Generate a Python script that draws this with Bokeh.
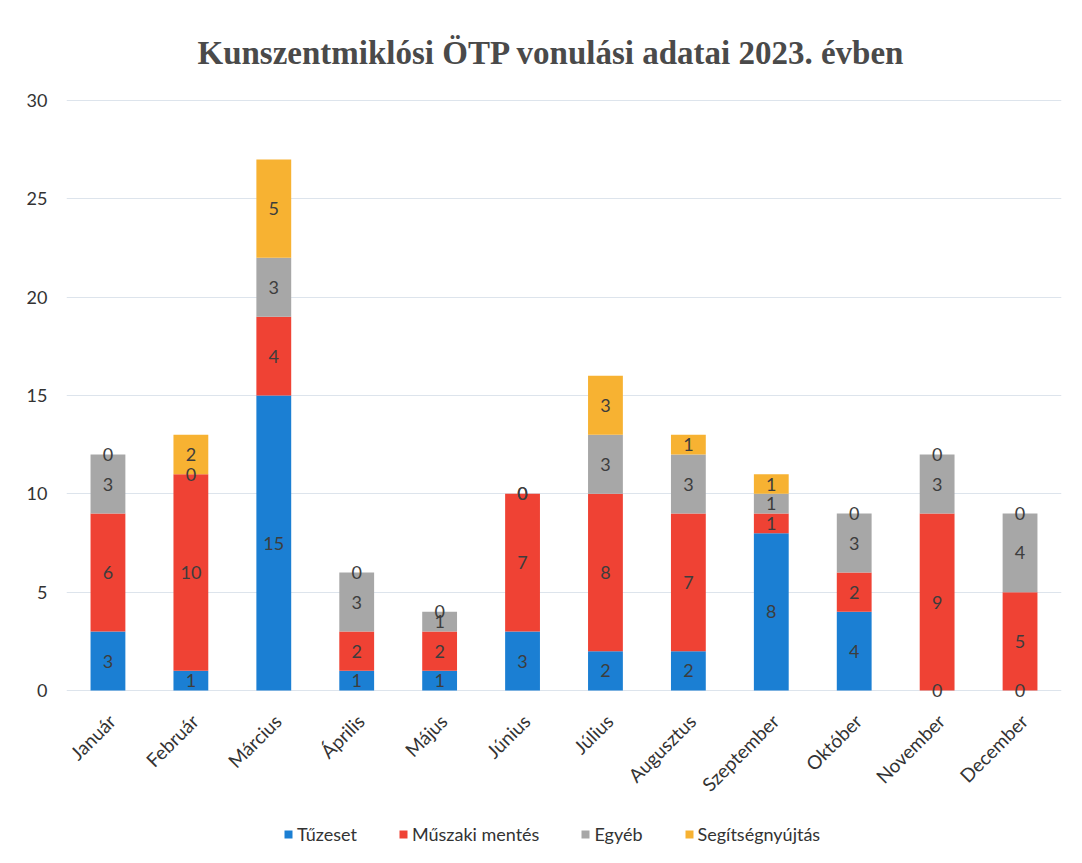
import math
from bokeh.plotting import figure
from bokeh.models import ColumnDataSource, Legend, LegendItem, FactorRange, Range1d
from bokeh.core.properties import value
from bokeh.embed import file_html
from bokeh.resources import INLINE

months = ["Január", "Február", "Március", "Április", "Május", "Június",
          "Július", "Augusztus", "Szeptember", "Október", "November", "December"]
tuzeset = [3, 1, 15, 1, 1, 3, 2, 2, 8, 4, 0, 0]
muszaki = [6, 10, 4, 2, 2, 7, 8, 7, 1, 2, 9, 5]
egyeb = [3, 0, 3, 3, 1, 0, 3, 3, 1, 3, 3, 4]
segitseg = [0, 2, 5, 0, 0, 0, 3, 1, 1, 0, 0, 0]
series_names = ["Tűzeset", "Műszaki mentés", "Egyéb", "Segítségnyújtás"]
series_keys = ["tuzeset", "muszaki", "egyeb", "segitseg"]
colors = ["#1b7fd3", "#ef4234", "#a7a7a7", "#f7b232"]
y_ticks = [0, 5, 10, 15, 20, 25, 30]

data = dict(month=months, tuzeset=tuzeset, muszaki=muszaki, egyeb=egyeb, segitseg=segitseg)
source = ColumnDataSource(data)

# frame spans from the 30 line down to the bottom of the page so that the
# rotated month names and the legend sit inside it
p = figure(x_range=FactorRange(*months), y_range=Range1d(-7.88, 30.05),
           width=1066, height=847, output_backend="svg", toolbar_location=None,
           title="Kunszentmiklósi ÖTP vonulási adatai 2023. évben",
           min_border_left=66, min_border_right=5, min_border_top=99, min_border_bottom=2)
p.outline_line_color = None
p.background_fill_color = "white"

p.title.align = "left"
p.title.offset = 131
p.title.text_font = "Liberation Serif"
p.title.text_font_style = "bold"
p.title.text_font_size = "33px"
p.title.text_color = "#4a4a4a"
p.title.standoff = 57

renderers = p.vbar_stack(series_keys, x="month", width=0.42, color=colors, source=source,
                         line_color=None)

# data labels
series_vals = [tuzeset, muszaki, egyeb, segitseg]
lx, ly, lt = [], [], []
for i, m in enumerate(months):
    base = 0
    for vals in series_vals:
        v = vals[i]
        lx.append(m)
        ly.append(base + v / 2)
        lt.append(str(v))
        base += v
lsrc = ColumnDataSource(dict(x=lx, y=ly, t=lt))
p.text(x="x", y="y", text="t", source=lsrc, text_align="center", text_baseline="middle",
       text_font=value("Lato"), text_font_size="18px", text_color="#3d3d3d")

# month names (rotated category labels)
msrc = ColumnDataSource(dict(x=months, y=[0] * len(months), t=months))
p.text(x="x", y="y", text="t", source=msrc, angle=math.pi / 4, text_align="right",
       text_baseline="middle", x_offset=4, y_offset=27,
       text_font=value("Lato"), text_font_size="19px", text_color="#333333")

# axes
p.xaxis.visible = False
p.yaxis.ticker = y_ticks
p.yaxis.axis_line_color = None
p.yaxis.major_tick_line_color = None
p.yaxis.minor_tick_line_color = None
p.yaxis.major_label_text_font = "Lato"
p.yaxis.major_label_text_font_size = "18px"
p.yaxis.major_label_text_color = "#333333"
p.yaxis.major_label_standoff = 13

p.xgrid.grid_line_color = None
p.ygrid.ticker = y_ticks
p.ygrid.grid_line_color = "#dde4ec"
p.ygrid.grid_line_width = 1

legend = Legend(items=[LegendItem(label=n, renderers=[r]) for n, r in zip(series_names, renderers)],
                orientation="horizontal", location=(217, 0),
                label_text_font="Lato", label_text_font_size="18px", label_text_color="#333333",
                glyph_width=10, glyph_height=10, label_standoff=4, spacing=41,
                border_line_color=None, background_fill_alpha=0, margin=0, padding=0)
p.add_layout(legend)

open("out.html", "w").write(file_html(p, INLINE))
